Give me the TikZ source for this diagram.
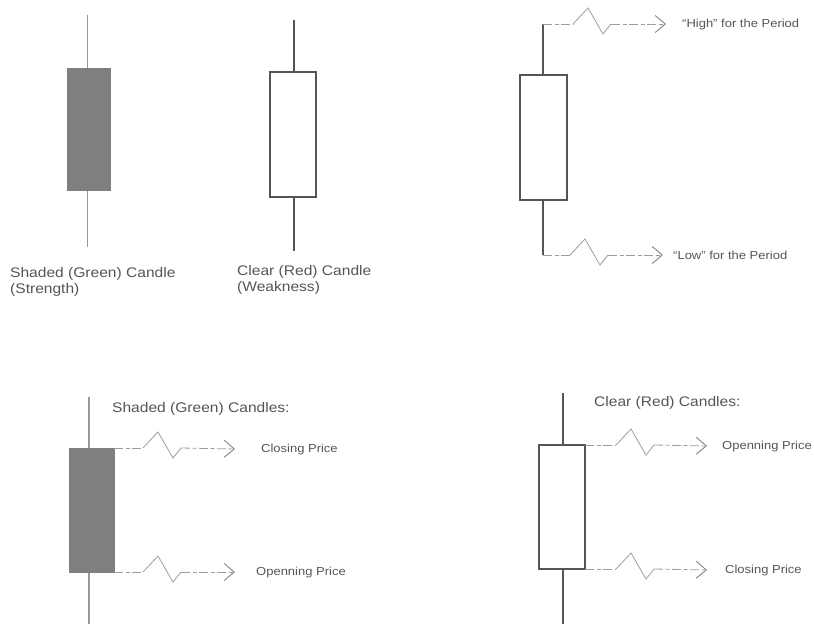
\documentclass[tikz,border=0pt]{standalone}
\usepackage{fontspec}
\setmainfont{Liberation Sans}
\newfontfamily\lblfont[FakeStretch=1.12]{Liberation Sans}
\usetikzlibrary{arrows.meta}
\definecolor{txtgray}{HTML}{555555}
\definecolor{bodyfill}{HTML}{7F7F7F}
\definecolor{linegray}{HTML}{8C8C8C}
\tikzset{
  x=1pt, y=-1pt,
  bigtxt/.style={inner sep=0pt, text=txtgray, font=\lblfont\fontsize{13.9}{16}\selectfont, align=left},
  smalltxt/.style={inner sep=0pt, text=txtgray, font=\lblfont\fontsize{11.6}{14}\selectfont, anchor=west},
  wickA/.style={draw=linegray!90, line width=1.7pt},
  wickB/.style={draw=txtgray, line width=1.3pt},
  shadedbody/.style={fill=bodyfill, draw=bodyfill, line width=0.8pt},
  clearbody/.style={fill=white, draw=txtgray, line width=1.3pt},
  conn/.style={draw=linegray!85, line width=0.8pt, dash pattern=on 9pt off 2.5pt on 4pt off 2.5pt},
  zig/.style={draw=linegray!85, line width=0.8pt},
  tipped/.style={conn, -{Straight Barb[length=10pt,width=17pt,line width=1pt,color=linegray]}}
}
\newcommand{\zigconn}[3]{%
  \draw[conn] (#1) -- ++(#2,0) coordinate (#1z);
  \draw[zig] (#1z) -- ++(15,-16) -- ++(15,26) -- ++(8,-10) coordinate (#1e);
  \draw[tipped] (#1e) -- ([xshift=-#3]#1l.west);
}
\begin{document}
\begin{tikzpicture}
\useasboundingbox (0,0) rectangle (814,624);
% ---- candle 1 (shaded)
\coordinate (c1t) at (87.5,15);
\coordinate (c1b) at (87.5,247);
\draw[wickA] (c1t) -- (c1b);
\path[shadedbody] (67,68) rectangle (110,190);
\node[bigtxt, anchor=north west] (c1lab) at (10,267) {Shaded (Green) Candle\\(Strength)};
% ---- candle 2 (clear)
\coordinate (c2t) at (294,20);
\coordinate (c2b) at (294,251);
\draw[wickB] (c2t) -- (c2b);
\path[clearbody] (270,72) rectangle (316,197);
\node[bigtxt, anchor=north west] (c2lab) at (237,265) {Clear (Red) Candle\\(Weakness)};
% ---- candle 3 (high / low)
\coordinate (h) at (543,24);
\coordinate (l) at (543,255);
\draw[wickB] (h) -- (l);
\path[clearbody] (520,75) rectangle (567,200);
\node[smalltxt] (hl) at (682,24) {“High” for the Period};
\node[smalltxt] (ll) at (673,255) {“Low” for the Period};
\zigconn{h}{30}{16pt}
\zigconn{l}{27}{10pt}
% ---- candle 4 (shaded, closing/opening)
\coordinate (c4t) at (89,397);
\coordinate (c4b) at (89,624);
\draw[wickA] (c4t) -- (c4b);
\path[shadedbody] (69,448) rectangle (114,572);
\node[bigtxt, anchor=west] (c4lab) at (112,409) {Shaded (Green) Candles:};
\coordinate (a) at (114,448);
\coordinate (b) at (114,572);
\node[smalltxt] (al) at (261,449) {Closing Price};
\node[smalltxt] (bl) at (256,572) {Openning Price};
\zigconn{a}{29}{26pt}
\zigconn{b}{29}{21pt}
% ---- candle 5 (clear, opening/closing)
\coordinate (c5t) at (563,393);
\coordinate (c5b) at (563,624);
\draw[wickB] (c5t) -- (c5b);
\path[clearbody] (539,445) rectangle (585,569);
\node[bigtxt, anchor=west] (c5lab) at (594,403) {Clear (Red) Candles:};
\coordinate (c) at (585,445);
\coordinate (d) at (585,569);
\node[smalltxt] (cl) at (722,446) {Openning Price};
\node[smalltxt] (dl) at (725,570) {Closing Price};
\zigconn{c}{31}{15pt}
\zigconn{d}{31}{18pt}
\end{tikzpicture}
\end{document}
